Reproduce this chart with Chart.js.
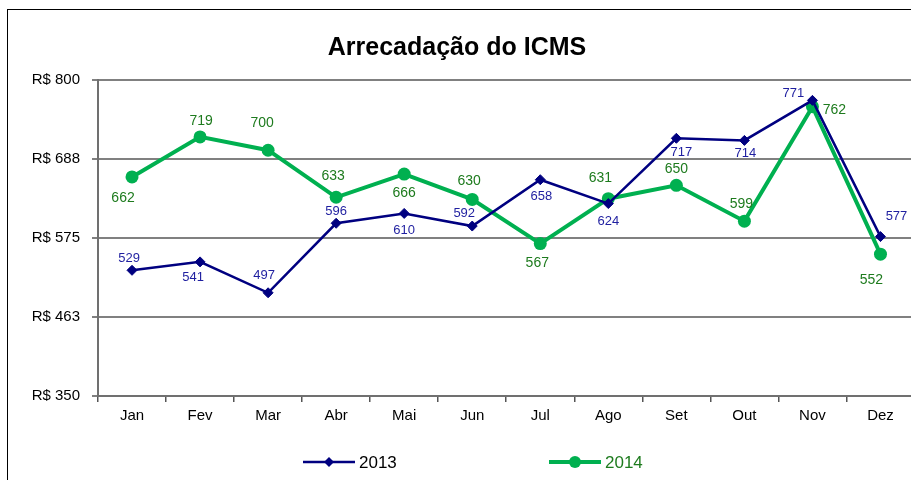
<!DOCTYPE html>
<html><head><meta charset="utf-8">
<script src="https://cdn.jsdelivr.net/npm/chart.js@4.4.0/dist/chart.umd.min.js"></script>
<style>
html,body{margin:0;padding:0;background:#fff;}
#wrap{position:relative;width:911px;height:480px;overflow:hidden;}
#frame{position:absolute;left:7px;top:9px;width:960px;height:520px;border-left:1.5px solid #000;border-top:1.5px solid #000;pointer-events:none;}
canvas{position:absolute;left:0;top:0;}
</style></head>
<body><div id="wrap"><canvas id="c" width="921" height="480"></canvas><div id="frame"></div></div>
<script>
const titleText = "Arrecadação do ICMS";
const categories = ["Jan","Fev","Mar","Abr","Mai","Jun","Jul","Ago","Set","Out","Nov","Dez"];
const series2013 = [529,541,497,596,610,592,658,624,717,714,771,577];
const series2014 = [662,719,700,633,666,630,567,631,650,599,762,552];
const yTicks = [350,462.5,575,687.5,800];
const yTickLabels = ["R$ 350","R$ 463","R$ 575","R$ 688","R$ 800"];

// label offsets (layout only)
const off2013 = [[-3,-12],[-7,16],[-4,-17],[0,-12],[0,17],[-8,-13],[1,17],[0,18],[5,14],[1,13],[-19,-7],[16,-20]];
const off2014 = [[-9,21],[1,-16],[-6,-27],[-3,-21],[0,19],[-3,-18],[-3,20],[-8,-21],[0,-16],[-3,-17],[22,3],[-9,26]];

const NAVY = "#000080", GREEN = "#00B050", NAVY_TXT = "#1F1FA0", GREEN_TXT = "#1E7B1E";
const FONT = "'Liberation Sans', Arial";

const labelPlugin = {
  id: "extras",
  afterDatasetsDraw(chart) {
    const ctx = chart.ctx;
    ctx.save();
    ctx.textAlign = "center"; ctx.textBaseline = "middle";
    const sets = [[0, off2013, NAVY_TXT, "13px " + FONT], [1, off2014, GREEN_TXT, "14px " + FONT]];
    sets.forEach(([di, offs, col, font]) => {
      const meta = chart.getDatasetMeta(di);
      const data = chart.data.datasets[di].data;
      ctx.fillStyle = col; ctx.font = font;
      meta.data.forEach((pt, i) => {
        ctx.fillText(String(data[i]), pt.x + offs[i][0], pt.y + offs[i][1]);
      });
    });
    // title
    ctx.fillStyle = "#000";
    ctx.font = "bold 25px " + FONT;
    ctx.fillText(titleText, 457, 48);
    // legend
    const items = [[303, NAVY, 2.5, "diamond", 5, "2013", "#000"], [549, GREEN, 4, "circle", 6, "2014", GREEN_TXT]];
    items.forEach(([x, col, lw, style, r, txt, tcol]) => {
      const y = 462;
      ctx.strokeStyle = col; ctx.lineWidth = lw;
      ctx.beginPath(); ctx.moveTo(x, y); ctx.lineTo(x + 52, y); ctx.stroke();
      ctx.fillStyle = col;
      ctx.beginPath();
      if (style === "circle") { ctx.arc(x + 26, y, r, 0, Math.PI * 2); }
      else { ctx.moveTo(x+26, y-r); ctx.lineTo(x+26+r, y); ctx.lineTo(x+26, y+r); ctx.lineTo(x+26-r, y); ctx.closePath(); }
      ctx.fill();
      ctx.fillStyle = tcol; ctx.textAlign = "left";
      ctx.font = "17px " + FONT;
      ctx.fillText(txt, x + 56, y + 1);
    });
    ctx.restore();
  }
};

new Chart(document.getElementById("c"), {
  type: "line",
  data: {
    labels: categories,
    datasets: [
      {label: "2013", data: series2013, borderColor: NAVY, backgroundColor: NAVY, borderWidth: 2.5,
       pointStyle: "rectRot", pointRadius: 5, pointBorderWidth: 1, tension: 0},
      {label: "2014", data: series2014, borderColor: GREEN, backgroundColor: GREEN, borderWidth: 4,
       pointStyle: "circle", pointRadius: 6.5, pointBorderWidth: 0, tension: 0}
    ]
  },
  options: {
    responsive: false, animation: false,
    layout: {padding: {top: 80, right: 0, bottom: 0, left: 0}},
    plugins: {legend: {display: false}, title: {display: false}, tooltip: {enabled: false}},
    scales: {
      x: {
        offset: true,
        grid: {offset: true, drawOnChartArea: false, color: "#555", lineWidth: 1.5, tickLength: 6},
        border: {color: "#707070", width: 2},
        ticks: {color: "#000", font: {family: FONT, size: 15}, padding: 5},
        afterFit(s) { s.height = 84; }
      },
      y: {
        min: 350, max: 800,
        afterBuildTicks(s) { s.ticks = yTicks.map(v => ({value: v})); },
        grid: {color: "#808080", lineWidth: 2, tickLength: 6},
        border: {color: "#707070", width: 2},
        ticks: {color: "#000", font: {family: FONT, size: 15}, padding: 12,
          callback(v) { const i = yTicks.indexOf(v); return i >= 0 ? yTickLabels[i] : ""; }},
        afterFit(s) { s.width = 98; }
      }
    }
  },
  plugins: [labelPlugin]
});
</script></body></html>
